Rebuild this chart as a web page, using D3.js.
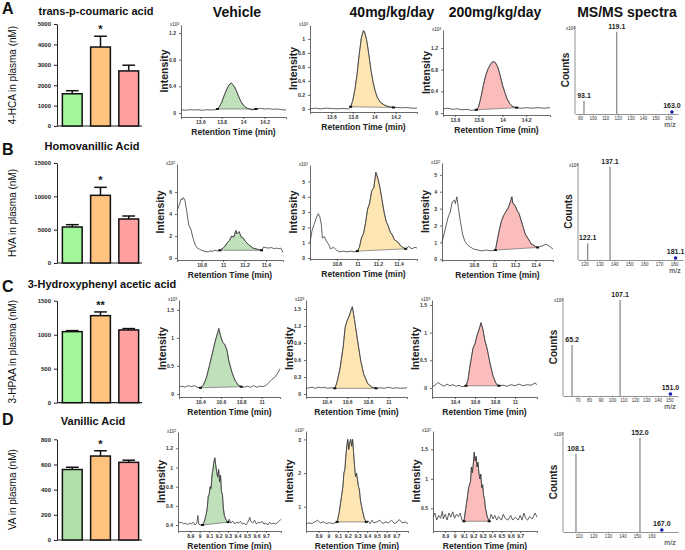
<!DOCTYPE html>
<html><head><meta charset="utf-8">
<script src="https://cdn.jsdelivr.net/npm/d3@7"></script>
<style>body{margin:0;background:#fff;} svg{display:block;font-family:"Liberation Sans",Arial,sans-serif;}</style>
</head><body><svg id="c" width="685" height="550"></svg>
<script>
// ---------------- DATA ----------------
const groups = ["Vehicle","40mg/kg/day","200mg/kg/day"];
const columnTitles = ["Vehicle","40mg/kg/day","200mg/kg/day","MS/MS spectra"];
const panelLetters = ["A","B","C","D"];
const compoundNames = ["trans-p-coumaric acid","Homovanillic Acid","3-Hydroxyphenyl acetic acid","Vanillic Acid"];
const barAxisTitles = ["4-HCA in plasma (nM)","HVA in plasma (nM)","3-HPAA in plasma (nM)","VA in plasma (nM)"];
const barTicks = [[0,1000,2000,3000,4000,5000],[0,5000,10000,15000],[0,500,1000,1500],[0,200,400,600,800]];
const hcaMean = [1580, 3870, 2700], hcaSem = [150, 530, 280];
const hvaMean = [5400, 10150, 6600], hvaSem = [350, 1200, 450];
const hpaaMean = [1045, 1280, 1070], hpaaSem = [15, 55, 20];
const vaMean = [560, 667, 617], vaSem = [18, 42, 17];
const significance = ["*","*","**","*"];

// chromatograms: [retention time (min), intensity]
const hcaVehicle = [[13.42,0.05],[13.46,0.04],[13.5,0.05],[13.54,0.045],[13.58,0.05],[13.62,0.04],[13.66,0.05],[13.7,0.045],[13.74,0.05],[13.76,0.06],[13.78,0.1],[13.8,0.16],[13.82,0.25],[13.84,0.33],[13.86,0.4],[13.88,0.44],[13.89,0.45],[13.9,0.43],[13.92,0.39],[13.94,0.32],[13.96,0.24],[13.98,0.17],[14.0,0.12],[14.02,0.09],[14.04,0.07],[14.06,0.06],[14.08,0.05],[14.1,0.05],[14.12,0.06],[14.16,0.07],[14.2,0.06],[14.24,0.065],[14.28,0.055],[14.32,0.06],[14.36,0.05],[14.4,0.045]];
const hca40 = [[13.4,0.0],[13.45,0.01],[13.5,0.0],[13.55,0.01],[13.6,0.005],[13.65,0.0],[13.7,0.005],[13.76,0.0],[13.78,0.03],[13.8,0.12],[13.82,0.28],[13.84,0.5],[13.86,0.78],[13.88,1.02],[13.9,1.12],[13.91,1.1],[13.93,0.98],[13.95,0.78],[13.97,0.55],[13.99,0.38],[14.01,0.25],[14.03,0.16],[14.06,0.09],[14.1,0.05],[14.14,0.03],[14.18,0.02],[14.22,0.02],[14.26,0.015],[14.3,0.02],[14.35,0.01],[14.4,0.01]];
const hca200 = [[13.5,0.08],[13.54,0.09],[13.58,0.07],[13.62,0.08],[13.66,0.06],[13.7,0.07],[13.74,0.05],[13.78,0.06],[13.8,0.12],[13.82,0.3],[13.84,0.52],[13.86,0.7],[13.88,0.82],[13.9,0.9],[13.92,0.95],[13.94,0.93],[13.96,0.85],[13.98,0.7],[14.0,0.52],[14.02,0.38],[14.04,0.26],[14.06,0.18],[14.08,0.13],[14.1,0.11],[14.12,0.1],[14.16,0.09],[14.2,0.1],[14.25,0.09],[14.3,0.1],[14.35,0.09],[14.4,0.1]];
const hvaVehicle = [[10.57,4.3],[10.59,4.8],[10.61,5.4],[10.62,5.3],[10.63,5.5],[10.645,5.2],[10.66,4.3],[10.68,3.0],[10.7,2.6],[10.72,1.8],[10.74,1.2],[10.76,0.9],[10.78,0.8],[10.8,0.7],[10.83,0.6],[10.86,0.55],[10.88,0.65],[10.9,0.6],[10.92,0.7],[10.95,0.65],[10.97,0.7],[11.0,0.9],[11.02,1.1],[11.04,1.4],[11.06,1.6],[11.08,2.0],[11.1,1.9],[11.12,2.5],[11.13,2.2],[11.15,2.4],[11.17,1.9],[11.19,1.8],[11.21,1.5],[11.24,1.2],[11.28,0.9],[11.32,0.8],[11.36,0.7],[11.38,1.0],[11.4,0.95],[11.42,0.9],[11.45,0.95],[11.48,0.85],[11.5,0.9],[11.52,0.85],[11.54,0.9],[11.56,0.5]];
const hva40 = [[10.54,1.0],[10.56,1.8],[10.58,2.2],[10.6,2.6],[10.62,2.9],[10.635,2.7],[10.65,2.2],[10.66,1.3],[10.68,1.4],[10.7,1.1],[10.72,0.9],[10.74,0.6],[10.77,0.7],[10.8,0.5],[10.83,0.4],[10.86,0.45],[10.9,0.4],[10.94,0.45],[10.97,0.4],[11.0,0.45],[11.02,0.7],[11.04,1.3],[11.06,1.6],[11.08,2.3],[11.1,3.2],[11.12,3.6],[11.14,4.4],[11.16,4.6],[11.18,5.6],[11.2,5.2],[11.22,4.6],[11.24,3.8],[11.26,3.0],[11.28,2.4],[11.3,2.1],[11.32,1.7],[11.34,1.5],[11.36,1.2],[11.38,1.1],[11.4,1.0],[11.42,0.8],[11.44,0.7],[11.47,0.6],[11.5,0.75],[11.53,0.6],[11.56,0.7],[11.58,0.65]];
const hva200 = [[10.49,1.0],[10.51,1.5],[10.53,2.0],[10.55,2.5],[10.57,2.8],[10.59,3.4],[10.61,3.5],[10.62,3.3],[10.635,3.7],[10.65,3.0],[10.67,2.2],[10.69,1.5],[10.71,1.1],[10.73,0.9],[10.76,0.75],[10.8,0.6],[10.84,0.55],[10.88,0.5],[10.92,0.55],[10.96,0.5],[11.01,0.55],[11.03,1.2],[11.05,1.8],[11.07,2.3],[11.09,2.6],[11.11,2.8],[11.13,3.0],[11.15,3.3],[11.17,3.7],[11.18,3.3],[11.2,3.2],[11.22,2.9],[11.24,2.7],[11.26,2.3],[11.28,1.9],[11.3,1.5],[11.33,1.2],[11.36,0.9],[11.39,0.8],[11.42,0.7],[11.44,0.75],[11.47,0.8],[11.5,0.9],[11.53,0.8],[11.55,0.7],[11.57,0.6]];
const hpaaVehicle = [[10.19,0.12],[10.22,0.14],[10.25,0.12],[10.28,0.15],[10.31,0.13],[10.34,0.15],[10.37,0.12],[10.4,0.11],[10.43,0.16],[10.46,0.3],[10.49,0.52],[10.52,0.75],[10.55,0.98],[10.57,1.1],[10.58,1.17],[10.6,1.02],[10.62,0.92],[10.64,0.88],[10.66,0.78],[10.68,0.58],[10.71,0.38],[10.74,0.24],[10.77,0.16],[10.8,0.13],[10.83,0.12],[10.86,0.14],[10.89,0.12],[10.92,0.15],[10.95,0.12],[10.98,0.14],[11.01,0.13],[11.04,0.15],[11.07,0.2],[11.1,0.26],[11.13,0.3],[11.16,0.38],[11.18,0.45]];
const hpaa40 = [[10.2,0.1],[10.23,0.11],[10.26,0.12],[10.29,0.1],[10.32,0.12],[10.35,0.11],[10.38,0.12],[10.41,0.1],[10.44,0.11],[10.48,0.1],[10.5,0.2],[10.53,0.45],[10.56,0.82],[10.58,1.18],[10.6,1.3],[10.62,1.38],[10.64,1.5],[10.65,1.54],[10.67,1.32],[10.7,0.95],[10.73,0.6],[10.76,0.35],[10.8,0.18],[10.84,0.12],[10.88,0.1],[10.92,0.11],[10.96,0.1],[11.0,0.12],[11.04,0.1],[11.08,0.11],[11.12,0.1],[11.18,0.11]];
const hpaa200 = [[10.17,0.02],[10.2,0.05],[10.23,0.1],[10.26,0.06],[10.29,0.03],[10.32,0.07],[10.35,0.04],[10.38,0.06],[10.41,0.03],[10.44,0.05],[10.47,0.02],[10.51,0.04],[10.53,0.15],[10.55,0.4],[10.58,0.72],[10.6,0.8],[10.62,0.95],[10.64,1.05],[10.66,1.18],[10.68,1.05],[10.7,0.85],[10.72,0.72],[10.75,0.45],[10.78,0.22],[10.81,0.08],[10.84,0.04],[10.88,0.05],[10.92,0.03],[10.96,0.06],[11.0,0.04],[11.04,0.07],[11.08,0.04],[11.12,0.06],[11.16,0.05],[11.2,0.09],[11.22,0.06]];
const vaVehicle = [[8.77,0.44],[8.79,0.42],[8.81,0.43],[8.83,0.41],[8.85,0.42],[8.87,0.4],[8.89,0.42],[8.91,0.41],[8.93,0.43],[8.95,0.4],[8.97,0.42],[8.98,0.5],[8.99,0.41],[9.01,0.4],[9.03,0.4],[9.05,0.44],[9.07,0.52],[9.08,0.58],[9.09,0.7],[9.1,0.72],[9.11,0.8],[9.12,0.78],[9.13,0.92],[9.14,0.98],[9.15,1.06],[9.16,1.1],[9.17,1.02],[9.18,0.95],[9.19,0.9],[9.2,0.98],[9.21,0.85],[9.22,0.92],[9.23,0.75],[9.24,0.72],[9.25,0.58],[9.26,0.5],[9.28,0.45],[9.3,0.43],[9.31,0.46],[9.33,0.42],[9.35,0.44],[9.37,0.41],[9.39,0.43],[9.41,0.42],[9.43,0.44],[9.45,0.41],[9.47,0.42],[9.49,0.4],[9.51,0.43],[9.53,0.48],[9.54,0.44],[9.56,0.42],[9.58,0.45],[9.6,0.41],[9.62,0.43],[9.64,0.42],[9.66,0.44],[9.68,0.41],[9.7,0.42],[9.72,0.4],[9.74,0.43],[9.76,0.41],[9.78,0.42],[9.8,0.41],[9.83,0.43],[9.86,0.46]];
const va40 = [[8.77,0.5],[8.8,0.52],[8.83,0.5],[8.86,0.55],[8.89,0.6],[8.92,0.52],[8.95,0.55],[8.98,0.5],[9.01,0.53],[9.04,0.5],[9.07,0.52],[9.09,0.55],[9.11,0.8],[9.13,1.2],[9.15,1.6],[9.16,2.0],[9.17,2.1],[9.18,2.5],[9.19,2.8],[9.2,3.0],[9.21,2.7],[9.22,2.9],[9.23,3.0],[9.24,2.8],[9.25,3.0],[9.26,2.6],[9.27,2.2],[9.28,1.9],[9.29,2.0],[9.3,1.8],[9.31,1.6],[9.32,1.5],[9.33,1.2],[9.35,0.9],[9.37,0.65],[9.39,0.55],[9.41,0.58],[9.43,0.5],[9.45,0.6],[9.47,0.52],[9.5,0.55],[9.53,0.6],[9.56,0.5],[9.59,0.55],[9.62,0.52],[9.65,0.6],[9.68,0.5],[9.71,0.55],[9.73,0.62],[9.76,0.52],[9.79,0.55],[9.82,0.5]];
const va200 = [[8.77,0.35],[8.79,0.42],[8.81,0.3],[8.83,0.38],[8.85,0.33],[8.87,0.45],[8.88,0.32],[8.9,0.4],[8.92,0.3],[8.94,0.42],[8.96,0.35],[8.98,0.44],[9.0,0.33],[9.02,0.4],[9.04,0.36],[9.06,0.42],[9.08,0.3],[9.1,0.28],[9.12,0.5],[9.14,0.72],[9.15,0.85],[9.17,0.95],[9.18,1.2],[9.19,1.1],[9.2,1.25],[9.21,1.45],[9.22,1.3],[9.23,1.38],[9.24,1.2],[9.25,1.28],[9.26,1.1],[9.27,1.0],[9.28,1.08],[9.29,0.85],[9.3,0.9],[9.31,0.72],[9.32,0.65],[9.33,0.5],[9.35,0.35],[9.37,0.28],[9.39,0.4],[9.41,0.32],[9.43,0.38],[9.45,0.3],[9.47,0.36],[9.5,0.3],[9.52,0.4],[9.54,0.33],[9.57,0.3],[9.6,0.38],[9.62,0.3],[9.65,0.35],[9.68,0.3],[9.7,0.38],[9.72,0.3],[9.74,0.42],[9.76,0.33],[9.78,0.3],[9.8,0.36],[9.83,0.32],[9.86,0.42],[9.88,0.35]];
const peakWindows = [
  [[13.76,14.12],[13.78,14.18],[13.78,14.12]],
  [[10.97,11.36],[11.0,11.47],[11.01,11.42]],
  [[10.4,10.8],[10.48,10.88],[10.51,10.84]],
  [[9.03,9.3],[9.09,9.39],[9.1,9.37]]
];
const chromXTicks = [[13.6,13.8,14,14.2],[10.8,11,11.2,11.4],[10.4,10.6,10.8,11],[8.9,9,9.1,9.2,9.3,9.4,9.5,9.6,9.7]];
const chromYTicks = [
  [[0,0.4,0.8,1.2],[0,0.2,0.4,0.6,0.8,1],[0,0.4,0.8,1.2]],
  [[0,2,4,6],[0,1,2,3,4,5],[0,1,2,3,4,5]],
  [[0,0.5,1,1.5],[0,0.3,0.6,0.9,1.2,1.5],[0,0.5,1,1.5]],
  [[0.4,0.6,0.8,1,1.2],[1,2,3],[0.5,1,1.5]]
];
const chromExponent = [["4","4","4"],["2","2","2"],["3","3","3"],["2","2","2"]];

// MS/MS spectra
const msFragmentMz = [[93.1,119.1],[122.1,137.1],[65.2,107.1],[108.1,152.0]];
const msFragmentRel = [[0.16,1],[0.18,1],[0.53,1],[0.83,1]];
const msPrecursor = [163.0,181.1,151.0,167.0];
const msXTicks = [[90,100,110,120,130,140,150,160],[120,130,140,150,160,170,180],[70,80,90,100,110,120,130,140,150],[110,120,130,140,150,160]];

// ---------------- LAYOUT ----------------
const barLayout = [{y:[126,24]},{y:[263,163]},{y:[402.7,300.7]},{y:[540,439.3]}];
const barColors = [["#a2f79b","#ffc27f","#ff9f9f"],["#a2f79b","#ffc27f","#ff9f9f"],["#a2f79b","#ffc27f","#ff9f9f"],["#aee0a8","#ffc27f","#ff9f9f"]];
const chromFill = ["#bfe0bb","#fde6b4","#fbbcbc"];
const chromBoxes = [
  [{x:[181,286],xd:[13.42,14.4],y:[117,25],yd:[-0.06,1.32]},{x:[310,417],xd:[13.4,14.4],y:[112,25],yd:[-0.045,1.2]},{x:[443,550],xd:[13.5,14.4],y:[115,30],yd:[-0.035,1.53]}],
  [{x:[177,283],xd:[10.57,11.56],y:[260,164],yd:[-0.18,8.55]},{x:[310,417],xd:[10.54,11.58],y:[259,165],yd:[-0.065,6.08]},{x:[442,553],xd:[10.49,11.57],y:[260,163],yd:[-0.04,5.7]}],
  [{x:[179,280],xd:[10.19,11.18],y:[397,300],yd:[-0.054,1.679]},{x:[306,407],xd:[10.2,11.18],y:[397,300],yd:[-0.053,1.66]},{x:[432,537],xd:[10.17,11.22],y:[397,300],yd:[-0.163,1.59]}],
  [{x:[178,281],xd:[8.77,9.86],y:[531,432],yd:[0.3375,1.37]},{x:[306,408],xd:[8.77,9.82],y:[531,431],yd:[0.28,3.25]},{x:[433,537],xd:[8.77,9.88],y:[531,431],yd:[0.115,1.81]}]
];
const msBoxes = [
  {x:[575,678],xd:[85.95,167.8],y:[114,26],yd:[0,1.07]},
  {x:[578,683],xd:[115.6,186.1],y:[260,163],yd:[0,1.04]},
  {x:[563,678],xd:[57.3,157.6],y:[396,298],yd:[0,1.02]},
  {x:[563,678],xd:[99.2,178.1],y:[532,432],yd:[0,1.06]}
];
const titleY = [15,150,288,425];
const titleX = [96,92,102,93];
const letterY = [14,155,292,425];
const columnTitleX = [237,392,495,627];

const svg = d3.select("#c");
const means = [hcaMean,hvaMean,hpaaMean,vaMean];
const sems = [hcaSem,hvaSem,hpaaSem,vaSem];
const chroms = [[hcaVehicle,hca40,hca200],[hvaVehicle,hva40,hva200],[hpaaVehicle,hpaa40,hpaa200],[vaVehicle,va40,va200]];

columnTitles.forEach((t,i)=>{
  svg.append("text").attr("x",columnTitleX[i]).attr("y",17).attr("text-anchor","middle")
    .attr("font-size",14).attr("font-weight","bold").attr("fill","#111").text(t);
});

function expLabel(g,x,y,e){
  const t = g.append("text").attr("x",x).attr("y",y).attr("font-size",4.5).attr("fill","#222");
  t.append("tspan").text("x10");
  t.append("tspan").attr("dy",-1.5).attr("font-size",3.5).text(e);
}

for(let r=0;r<4;r++){
  svg.append("text").attr("x",2).attr("y",letterY[r]).attr("font-size",16).attr("font-weight","bold").attr("fill","#111").text(panelLetters[r]);
  svg.append("text").attr("x",titleX[r]).attr("y",titleY[r]).attr("text-anchor","middle").attr("font-size",11).attr("font-weight","bold").attr("fill","#111").text(compoundNames[r]);

  // ----- bar chart -----
  const bl = barLayout[r];
  const yb = d3.scaleLinear().domain([0, d3.max(barTicks[r])]).range(bl.y);
  const xb = d3.scaleBand().domain(groups).range([59,142]).paddingInner(0.3).paddingOuter(0.12);
  const gb = svg.append("g");
  const ax = gb.append("g").attr("transform","translate(57,0)")
    .call(d3.axisLeft(yb).tickValues(barTicks[r]).tickSize(3).tickSizeOuter(0).tickFormat(d3.format("d")));
  ax.selectAll("path,line").attr("stroke","#222").attr("stroke-width",1);
  ax.selectAll("text").attr("font-size",6).attr("font-weight","bold").attr("fill","#222").attr("font-family","Liberation Sans, Arial");
  gb.append("line").attr("x1",57).attr("x2",142).attr("y1",yb(0)).attr("y2",yb(0)).attr("stroke","#222").attr("stroke-width",1.2);
  groups.forEach((gname,i)=>{
    const x = xb(gname), w = xb.bandwidth(), cx = x + w/2;
    const top = yb(means[r][i]), et = yb(means[r][i]+sems[r][i]);
    gb.append("line").attr("x1",cx).attr("x2",cx).attr("y1",top).attr("y2",et).attr("stroke","#111").attr("stroke-width",1.5);
    gb.append("line").attr("x1",cx-w*0.32).attr("x2",cx+w*0.32).attr("y1",et).attr("y2",et).attr("stroke","#111").attr("stroke-width",1.5);
    gb.append("rect").attr("x",x).attr("y",top).attr("width",w).attr("height",yb(0)-top)
      .attr("fill",barColors[r][i]).attr("stroke","#111").attr("stroke-width",1.5);
    if(i===1){
      gb.append("text").attr("x",cx).attr("y",et-3).attr("text-anchor","middle").attr("font-size",11).attr("font-weight","bold").attr("fill","#111").text(significance[r]);
    }
  });
  gb.append("text").attr("transform",`translate(16,${(bl.y[0]+bl.y[1])/2}) rotate(-90)`).attr("text-anchor","middle")
    .attr("font-size",10).attr("fill","#111").text(barAxisTitles[r]);

  // ----- chromatograms -----
  for(let c=0;c<3;c++){
    const b = chromBoxes[r][c];
    const x = d3.scaleLinear().domain(b.xd).range(b.x);
    const y = d3.scaleLinear().domain(b.yd).range(b.y);
    const g = svg.append("g");
    const data = chroms[r][c];
    const win = peakWindows[r][c];
    const sub = data.filter(d=>d[0]>=win[0]-1e-9 && d[0]<=win[1]+1e-9);
    const line = d3.line().x(d=>x(d[0])).y(d=>y(d[1]));
    g.append("path").attr("d",line(sub)+"Z").attr("fill",chromFill[c]).attr("stroke","#555").attr("stroke-width",0.6);
    g.append("path").attr("d",line(data)).attr("fill","none").attr("stroke","#3a3a3a").attr("stroke-width",0.8);
    [sub[0],sub[sub.length-1]].forEach(d=>{
      g.append("rect").attr("x",x(d[0])-1.5).attr("y",y(d[1])-1).attr("width",3).attr("height",2).attr("fill","#111");
    });
    const axX = g.append("g").attr("transform",`translate(0,${b.y[0]})`)
      .call(d3.axisBottom(x).tickValues(chromXTicks[r]).tickSize(2).tickSizeOuter(2).tickFormat(d=>String(+d.toFixed(2))));
    const axY = g.append("g").attr("transform",`translate(${b.x[0]},0)`)
      .call(d3.axisLeft(y).tickValues(chromYTicks[r][c]).tickSize(2).tickSizeOuter(0).tickFormat(d=>String(+d.toFixed(2))));
    [axX,axY].forEach(a=>{
      a.selectAll("path,line").attr("stroke","#444").attr("stroke-width",0.8);
      a.selectAll("text").attr("font-size",5).attr("font-weight","bold").attr("fill","#333").attr("font-family","Liberation Sans, Arial");
    });
    axX.selectAll("text").attr("y",3.5);
    expLabel(g,b.x[0]-11,b.y[1]+1,chromExponent[r][c]);
    g.append("text").attr("transform",`translate(${b.x[0]-13},${(b.y[0]+b.y[1])/2}) rotate(-90)`).attr("text-anchor","middle")
      .attr("font-size",10.5).attr("font-weight","bold").attr("fill","#222").text("Intensity");
    g.append("text").attr("x",(b.x[0]+b.x[1])/2).attr("y",b.y[0]+17.5).attr("text-anchor","middle")
      .attr("font-size",8.5).attr("font-weight","bold").attr("fill","#222").text("Retention Time (min)");
  }

  // ----- MS/MS -----
  const m = msBoxes[r];
  const xm = d3.scaleLinear().domain(m.xd).range(m.x);
  const ym = d3.scaleLinear().domain(m.yd).range(m.y);
  const gm = svg.append("g");
  msFragmentMz[r].forEach((mz,i)=>{
    gm.append("line").attr("x1",xm(mz)).attr("x2",xm(mz)).attr("y1",ym(0)).attr("y2",ym(msFragmentRel[r][i]))
      .attr("stroke","#8c8c8c").attr("stroke-width",1.3);
    gm.append("text").attr("x",xm(mz)).attr("y",ym(msFragmentRel[r][i])-3).attr("text-anchor","middle")
      .attr("font-size",7).attr("font-weight","bold").attr("fill","#222").text(mz.toFixed(1));
  });
  gm.append("circle").attr("cx",xm(msPrecursor[r])).attr("cy",ym(0)-2).attr("r",1.8).attr("fill","#1a1ab0");
  gm.append("text").attr("x",xm(msPrecursor[r])).attr("y",ym(0)-6).attr("text-anchor","middle")
    .attr("font-size",7).attr("font-weight","bold").attr("fill","#222").text(msPrecursor[r].toFixed(1));
  const amx = gm.append("g").attr("transform",`translate(0,${m.y[0]})`)
    .call(d3.axisBottom(xm).tickValues(msXTicks[r]).tickSize(1.5).tickSizeOuter(0));
  amx.selectAll("path,line").attr("stroke","#777").attr("stroke-width",0.8);
  amx.selectAll("text").attr("font-size",4.5).attr("fill","#333").attr("y",2.5).attr("font-family","Liberation Sans, Arial");
  gm.append("line").attr("x1",m.x[0]).attr("x2",m.x[0]).attr("y1",m.y[0]).attr("y2",m.y[1]).attr("stroke","#777").attr("stroke-width",0.8);
  expLabel(gm,m.x[0]-9,m.y[1]+4,"4");
  gm.append("text").attr("transform",`translate(${m.x[0]-6},${(m.y[0]+m.y[1])/2}) rotate(-90)`).attr("text-anchor","middle")
    .attr("font-size",10).attr("font-weight","bold").attr("fill","#222").text("Counts");
  gm.append("text").attr("x",m.x[1]-8).attr("y",m.y[0]+13).attr("text-anchor","middle")
    .attr("font-size",7).attr("fill","#222").text("m/z");
}
</script></body></html>
